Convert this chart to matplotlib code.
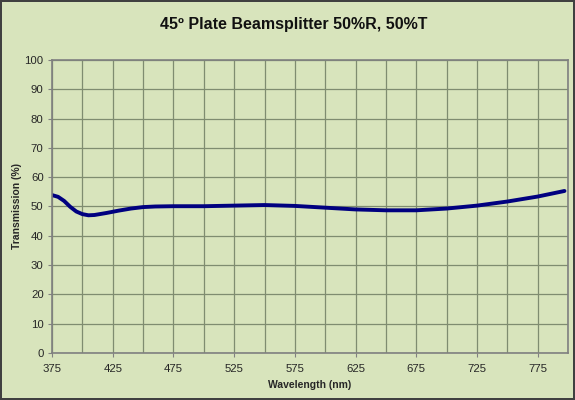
import numpy as np
from matplotlib import pyplot as plt

wavelength = [375, 380, 385, 390, 395, 400, 405, 410, 420, 430, 440, 450, 460,
              475, 500, 525, 550, 575, 600, 625, 650, 675, 700, 725, 750, 775, 797]
transmission = [53.9, 53.3, 51.9, 49.9, 48.3, 47.4, 47.0, 47.1, 47.8, 48.6, 49.3, 49.8, 50.0,
                50.1, 50.1, 50.3, 50.5, 50.2, 49.6, 49.0, 48.7, 48.7, 49.3, 50.3, 51.7, 53.4, 55.3]
xticks = [375, 425, 475, 525, 575, 625, 675, 725, 775]
xgrid = [400, 450, 500, 550, 600, 650, 700, 750, 800]
yticks = list(range(0, 101, 10))

bg = '#D8E4BC'
plt.rcParams['font.family'] = ['Liberation Sans', 'DejaVu Sans']

fig = plt.figure(figsize=(5.75, 4.0), dpi=100, facecolor=bg,
                 edgecolor='#404040', linewidth=1.5)
ax = fig.add_axes([0.0904, 0.1175, 0.8976, 0.7325])
ax.set_facecolor(bg)

ax.plot(wavelength, transmission, color='#000080', linewidth=2.8, solid_capstyle='round')

ax.set_xlim(375, 800)
ax.set_ylim(0, 100)
ax.set_xticks(xticks)
ax.set_xticks(xgrid, minor=True)
ax.set_yticks(yticks)
ax.grid(True, which='both', color='#7F8C70', linewidth=0.9)
ax.tick_params(which='major', labelsize=8.2, labelcolor='#262626', length=3,
               color='#808080', pad=3)
ax.tick_params(axis='x', which='major', pad=5)
ax.tick_params(which='minor', length=0)
for s in ax.spines.values():
    s.set_color('#808080')
    s.set_linewidth(1.2)

fig.text(0.511, 0.9375, '45º Plate Beamsplitter 50%R, 50%T', fontsize=11.5,
         fontweight='bold', ha='center', va='center', color='#111111')
ax.set_xlabel('Wavelength (nm)', fontsize=7.5, fontweight='bold', labelpad=4,
              color='#262626')
ax.set_ylabel('Transmission (%)', fontsize=7.5, fontweight='bold', labelpad=2,
              color='#262626')

fig.savefig('out.png', dpi=100, facecolor=bg, edgecolor='#404040')
